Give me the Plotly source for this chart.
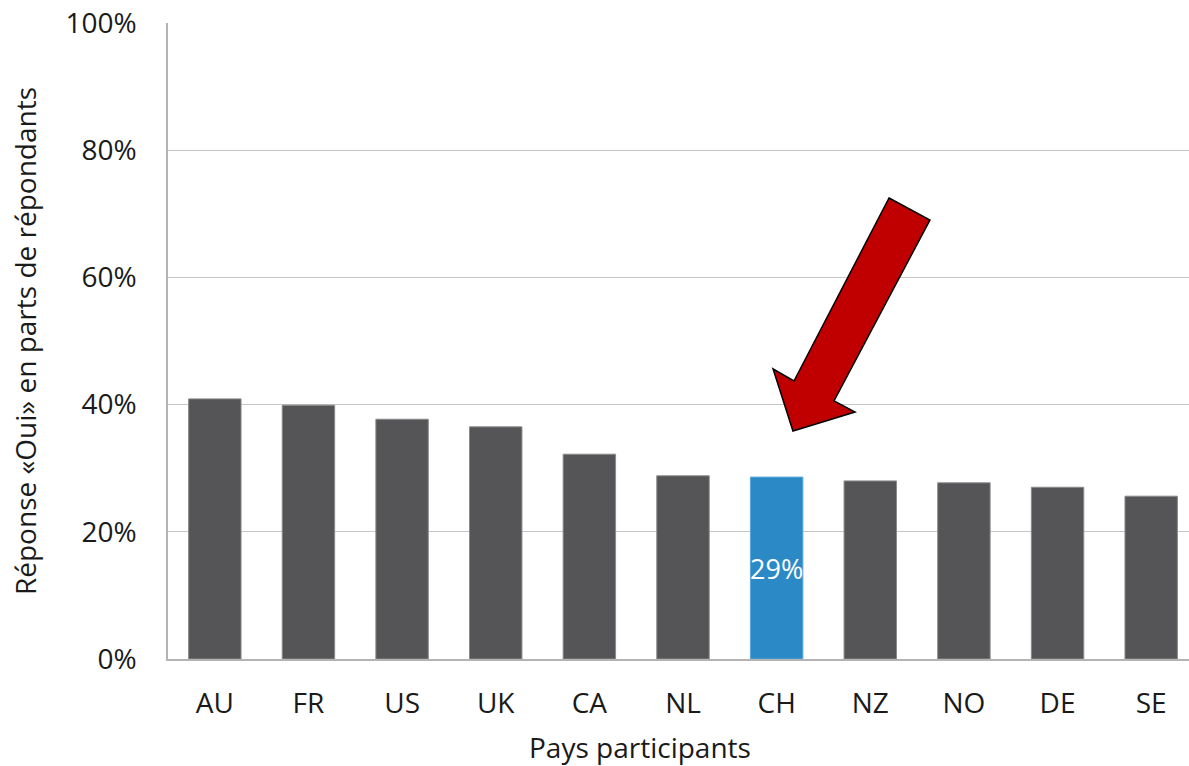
import plotly.graph_objects as go

countries = ["AU", "FR", "US", "UK", "CA", "NL", "CH", "NZ", "NO", "DE", "SE"]
values = [0.409, 0.399, 0.377, 0.365, 0.322, 0.288, 0.286, 0.280, 0.277, 0.270, 0.256]
highlight = "CH"
y_ticks = [0, 0.2, 0.4, 0.6, 0.8, 1.0]
y_tick_labels = ["0%", "20%", "40%", "60%", "80%", "100%"]

DARK = "#555557"
BLUE = "#2b8ac6"
colors = [BLUE if c == highlight else DARK for c in countries]
line_colors = ["#5aa8dc" if c == highlight else "#8a8a8a" for c in countries]
texts = [f"{round(v*100):.0f}%" if c == highlight else "" for c, v in zip(countries, values)]

FONT = "Open Sans"
FS = 28
W, H = 1189, 766
L, R, T = 168, 0, 23
B = H - 659
pw, ph = W - L - R, H - T - B

fig = go.Figure(go.Bar(
    x=countries, y=values,
    marker=dict(color=colors, line=dict(color=line_colors, width=1)),
    text=texts, textposition="inside", insidetextanchor="middle",
    constraintext="none", textangle=0,
    textfont=dict(color="white", size=FS - 1, family=FONT),
    hoverinfo="skip",
))

def px(x, y):
    # page pixel -> paper coordinates
    return (x - L) / pw, (H - B - y) / ph

arrow_pts = [(889, 198), (930, 220), (834, 401), (855, 412), (793, 431), (773, 369), (794, 381)]
path = ""
for i, (x, y) in enumerate(arrow_pts):
    xp, yp = px(x, y)
    path += ("M" if i == 0 else "L") + f"{xp:.4f},{yp:.4f} "
path += "Z"

tx, ty = px(640, 747)

fig.update_layout(
    width=W, height=H,
    margin=dict(l=L, r=R, t=T, b=B, autoexpand=False),
    paper_bgcolor="white", plot_bgcolor="white",
    font=dict(family=FONT, size=FS, color="#1a1a1a"),
    bargap=0.44,
    showlegend=False,
    xaxis=dict(
        range=[-0.5, 10.5 - 9/93.6], automargin=False,
        showline=True, linecolor="#b3b3b3", linewidth=1.5,
        ticks="", ticklabelstandoff=19,
        tickfont=dict(size=FS, family=FONT, color="#1a1a1a"),
        showgrid=False, zeroline=False,
    ),
    yaxis=dict(
        range=[0, 1.0], tickvals=y_ticks, ticktext=y_tick_labels,
        automargin=False,
        showline=True, linecolor="#b3b3b3", linewidth=1.5,
        showgrid=True, gridcolor="#c6c6c6", gridwidth=1,
        zeroline=False, ticks="", ticklabelstandoff=24,
        ticklabeloverflow="allow",
        tickfont=dict(size=FS, family=FONT, color="#1a1a1a"),
        title=dict(text="Réponse «Oui» en parts de répondants",
                   font=dict(size=FS, family=FONT, color="#1a1a1a"), standoff=21),
    ),
    shapes=[dict(type="path", xref="paper", yref="paper", path=path,
                 fillcolor="#c00000", line=dict(color="black", width=1.5))],
    annotations=[dict(text="Pays participants", xref="paper", yref="paper",
                      x=tx, y=ty, xanchor="center", yanchor="middle", showarrow=False,
                      font=dict(size=FS, family=FONT, color="#1a1a1a"))],
)

fig.write_html("out.html", config={"displayModeBar": False},
               post_script="document.body.style.margin='0';document.body.style.overflow='hidden';")
